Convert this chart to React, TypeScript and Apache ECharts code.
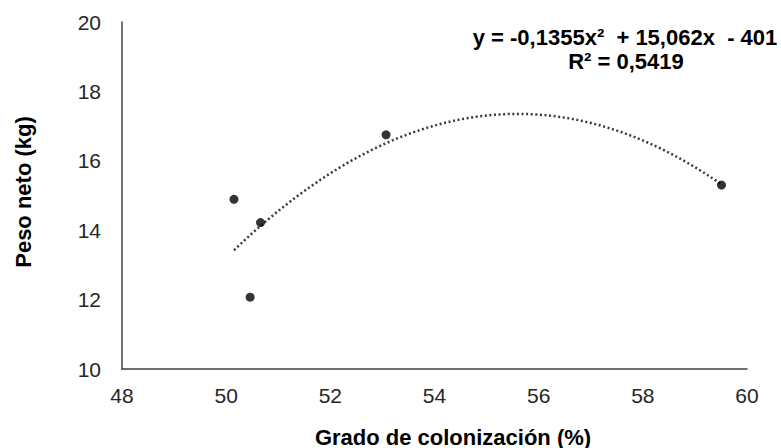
import React, { useEffect, useRef } from "react";
import * as echarts from "echarts";

// Data
const colonizacion: number[] = [50.15, 50.46, 50.66, 53.07, 59.51];
const pesoNeto: number[] = [14.89, 12.07, 14.22, 16.75, 15.3];

const xTicks = { min: 48, max: 60, interval: 2 };
const yTicks = { min: 10, max: 20, interval: 2 };

const equationText = "y = -0,1355x\u00b2  + 15,062x  - 401";
const r2Text = "R\u00b2 = 0,5419";
const xTitle = "Grado de colonización (%)";
const yTitle = "Peso neto (kg)";

// Least-squares quadratic fit (polynomial trendline) computed from the data
function quadFit(xs: number[], ys: number[]): [number, number, number] {
  const n = xs.length;
  let s1 = 0, s2 = 0, s3 = 0, s4 = 0, t0 = 0, t1 = 0, t2 = 0;
  for (let i = 0; i < n; i++) {
    const x = xs[i], y = ys[i];
    s1 += x; s2 += x * x; s3 += x ** 3; s4 += x ** 4;
    t0 += y; t1 += x * y; t2 += x * x * y;
  }
  const M = [
    [s4, s3, s2, t2],
    [s3, s2, s1, t1],
    [s2, s1, n, t0],
  ];
  for (let c = 0; c < 3; c++) {
    let p = c;
    for (let r = c + 1; r < 3; r++) if (Math.abs(M[r][c]) > Math.abs(M[p][c])) p = r;
    [M[c], M[p]] = [M[p], M[c]];
    for (let r = 0; r < 3; r++) {
      if (r === c) continue;
      const f = M[r][c] / M[c][c];
      for (let k = c; k < 4; k++) M[r][k] -= f * M[c][k];
    }
  }
  return [M[0][3] / M[0][0], M[1][3] / M[1][1], M[2][3] / M[2][2]];
}

export default function App() {
  const ref = useRef<HTMLDivElement>(null);

  useEffect(() => {
    if (!ref.current) return;
    const chart = echarts.init(ref.current, undefined, { renderer: "svg" });

    const [a, b, c] = quadFit(colonizacion, pesoNeto);
    const xMin = Math.min(...colonizacion);
    const xMax = Math.max(...colonizacion);
    const steps = 80;
    const trend: number[][] = [];
    for (let i = 0; i <= steps; i++) {
      const x = xMin + ((xMax - xMin) * i) / steps;
      trend.push([x, a * x * x + b * x + c]);
    }

    const font = "Liberation Sans, Arial, sans-serif";
    const titleStyle = {
      fontFamily: font,
      fontSize: 22,
      fontWeight: "bold",
      fill: "#000",
      align: "center",
      verticalAlign: "middle",
    };

    chart.setOption({
      animation: false,
      backgroundColor: "#ffffff",
      grid: { left: 122, right: 34, top: 22, bottom: 79, containLabel: false },
      xAxis: {
        type: "value",
        min: xTicks.min,
        max: xTicks.max,
        interval: xTicks.interval,
        axisLine: { show: true, lineStyle: { color: "#404040", width: 1.5 } },
        axisTick: { show: false },
        splitLine: { show: false },
        axisLabel: { fontFamily: font, fontSize: 21, color: "#262626", margin: 16 },
      },
      yAxis: {
        type: "value",
        min: yTicks.min,
        max: yTicks.max,
        interval: yTicks.interval,
        axisLine: { show: true, lineStyle: { color: "#404040", width: 1.5 } },
        axisTick: { show: false },
        splitLine: { show: false },
        axisLabel: { fontFamily: font, fontSize: 21, color: "#262626", margin: 21 },
      },
      graphic: [
        {
          type: "text",
          x: 23,
          y: 192,
          rotation: Math.PI / 2,
          style: { ...titleStyle, text: yTitle },
        },
        {
          type: "text",
          x: 453,
          y: 437,
          style: { ...titleStyle, text: xTitle },
        },
        {
          type: "text",
          x: 625,
          y: 37,
          style: { ...titleStyle, text: equationText },
        },
        {
          type: "text",
          x: 626,
          y: 61,
          style: { ...titleStyle, text: r2Text },
        },
      ],
      series: [
        {
          name: "Tendencia",
          type: "line",
          data: trend,
          showSymbol: false,
          symbol: "none",
          smooth: false,
          lineStyle: { color: "#3a3a3a", width: 2.5, type: [2, 2.6] },
          z: 1,
        },
        {
          name: "Datos",
          type: "scatter",
          data: colonizacion.map((x, i) => [x, pesoNeto[i]]),
          symbol: "circle",
          symbolSize: 9,
          itemStyle: { color: "#000" },
          z: 2,
        },
      ],
    });

    return () => chart.dispose();
  }, []);

  return <div ref={ref} style={{ width: 781, height: 448, position: "absolute", left: 0, top: 0 }} />;
}
